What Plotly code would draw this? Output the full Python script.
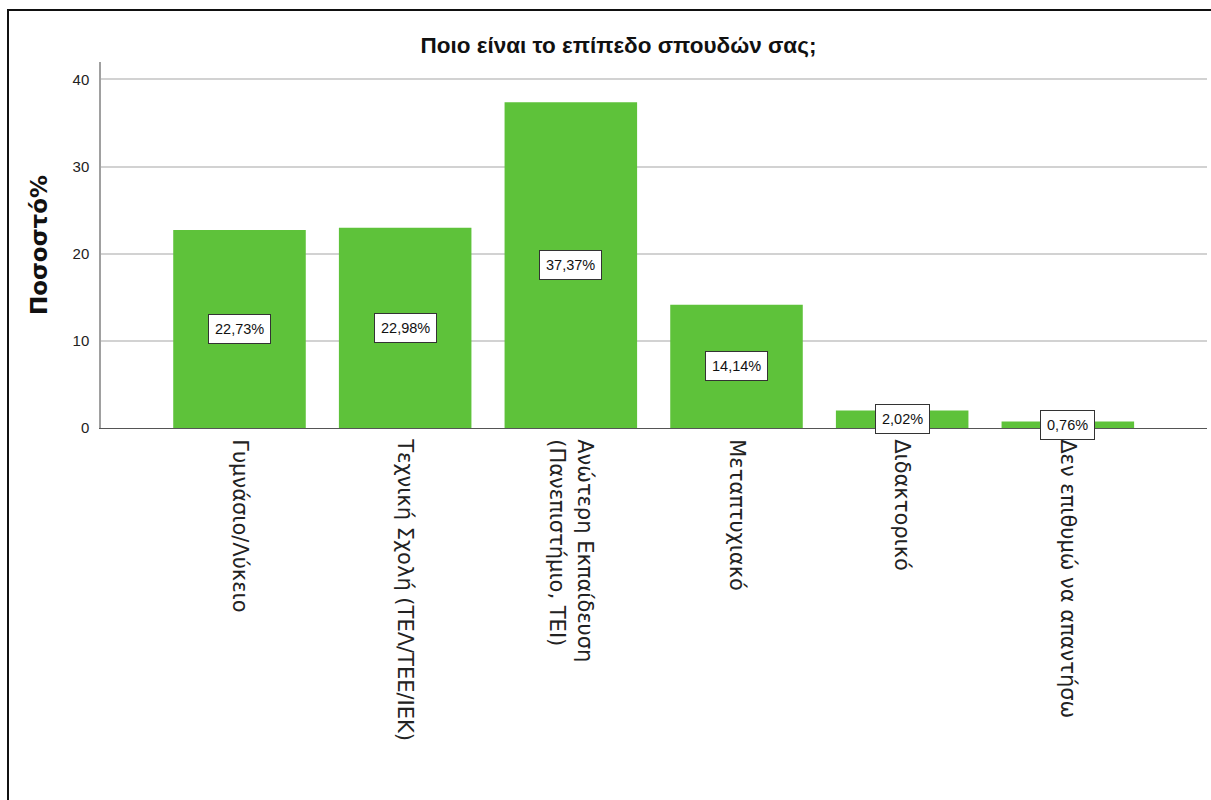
import plotly.graph_objects as go

categories = [
    "Γυμνάσιο/Λύκειο",
    "Τεχνική Σχολή (ΤΕΛ/ΤΕΕ/ΙΕΚ)",
    "Ανώτερη Εκπαίδευση<br>(Πανεπιστήμιο, ΤΕΙ)",
    "Μεταπτυχιακό",
    "Διδακτορικό",
    "Δεν επιθυμώ να απαντήσω",
]
percentages = [22.73, 22.98, 37.37, 14.14, 2.02, 0.76]
y_ticks = [0, 10, 20, 30, 40]

FONT = "Liberation Sans, Arial, sans-serif"
WIDE = "DejaVu Sans, Liberation Sans, sans-serif"
GREEN = "#5EC23A"

x_idx = list(range(len(categories)))

fig = go.Figure()
fig.add_trace(go.Bar(
    x=x_idx,
    y=percentages,
    width=0.8,
    marker=dict(color=GREEN, line=dict(width=0)),
    hoverinfo="skip",
))

for i, v in zip(x_idx, percentages):
    fig.add_annotation(
        x=i, y=v / 2, xref="x", yref="y",
        text=f"{v:.2f}%".replace(".", ","),
        showarrow=False,
        font=dict(family=FONT, size=14.5, color="#111111"),
        bgcolor="white",
        bordercolor="#333333",
        borderwidth=1,
        borderpad=6,
    )

# outer frame (top-left visible, extends past the page edges)
fig.add_shape(
    type="rect", xref="paper", yref="paper",
    x0=(8 - 101) / 1106, x1=1.2,
    y0=-2.0, y1=(428 - 10) / 366,
    line=dict(color="#111111", width=2),
    fillcolor="rgba(0,0,0,0)",
    layer="above",
)

fig.update_layout(
    width=1211, height=800,
    autosize=False,
    margin=dict(l=101, r=4, t=62, b=372),
    paper_bgcolor="white",
    plot_bgcolor="white",
    showlegend=False,
    bargap=0.2,
    title=dict(
        text="<b>Ποιο είναι το επίπεδο σπουδών σας;</b>",
        x=(418 + 819) / 2 / 1211, xanchor="center",
        y=1 - 45 / 800, yanchor="middle",
        font=dict(family=FONT, size=22.5, color="#111111"),
    ),
    xaxis=dict(
        tickmode="array",
        tickvals=x_idx,
        ticktext=categories,
        tickangle=90,
        range=[-0.836, 5.84],
        showgrid=False,
        showline=True,
        linecolor="#555555",
        linewidth=1,
        ticks="",
        zeroline=False,
        tickfont=dict(family=WIDE, size=21, color="#222222"),
        ticklabelstandoff=6,
    ),
    yaxis=dict(
        range=[0, 42],
        tickmode="array",
        tickvals=y_ticks,
        ticktext=[str(t) for t in y_ticks],
        showgrid=True,
        gridcolor="#D2D2D2",
        gridwidth=1.5,
        showline=True,
        linecolor="#A0A0A0",
        linewidth=1.5,
        ticks="",
        zeroline=False,
        tickfont=dict(family=FONT, size=15, color="#222222"),
        ticklabelstandoff=7,
        title=dict(
            text="<b>Ποσοστό%</b>",
            font=dict(family=WIDE, size=23, color="#111111"),
            standoff=19,
        ),
    ),
)

fig.write_html("out.html")
